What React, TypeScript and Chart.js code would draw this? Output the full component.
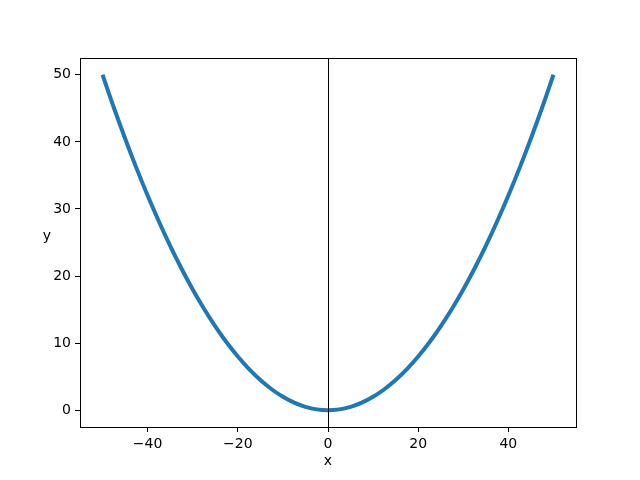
import React, { useEffect, useRef } from "react";
import { Chart, registerables } from "chart.js";

Chart.register(...registerables);

const xValues = [-50, -47.5, -45, -42.5, -40, -37.5, -35, -32.5, -30, -27.5, -25, -22.5, -20, -17.5, -15, -12.5, -10, -7.5, -5, -2.5, 0, 2.5, 5, 7.5, 10, 12.5, 15, 17.5, 20, 22.5, 25, 27.5, 30, 32.5, 35, 37.5, 40, 42.5, 45, 47.5, 50];
const yValues = [50, 45.125, 40.5, 36.125, 32, 28.125, 24.5, 21.125, 18, 15.125, 12.5, 10.125, 8, 6.125, 4.5, 3.125, 2, 1.125, 0.5, 0.125, 0, 0.125, 0.5, 1.125, 2, 3.125, 4.5, 6.125, 8, 10.125, 12.5, 15.125, 18, 21.125, 24.5, 28.125, 32, 36.125, 40.5, 45.125, 50];
const xTicks = [-40, -20, 0, 20, 40];
const yTicks = [0, 10, 20, 30, 40, 50];
const xRange = [-55, 55];
const yRange = [-2.5, 52.5];
const vLineX = 0;
const xLabel = "x";
const yLabel = "y";

const FONT = "DejaVu Sans";

const fmt = (v: number) => (v < 0 ? "\u2212" + Math.abs(v) : String(v));

export default function App() {
  const ref = useRef<HTMLCanvasElement | null>(null);
  useEffect(() => {
    document.body.style.margin = "0";
    const canvas = ref.current!;
    const framePlugin = {
      id: "frame",
      afterDatasetsDraw(chart: any) {
        const { ctx, chartArea, scales } = chart;
        ctx.save();
        ctx.strokeStyle = "#000";
        ctx.lineWidth = 1;
        const vx = Math.round(scales.x.getPixelForValue(vLineX)) + 0.5;
        ctx.beginPath();
        ctx.moveTo(vx, chartArea.top);
        ctx.lineTo(vx, chartArea.bottom);
        ctx.stroke();
        ctx.strokeRect(
          Math.round(chartArea.left) + 0.5,
          Math.round(chartArea.top) + 0.5,
          Math.round(chartArea.right - chartArea.left),
          Math.round(chartArea.bottom - chartArea.top)
        );
        ctx.fillStyle = "#000";
        ctx.font = `14px "${FONT}"`;
        ctx.textAlign = "center";
        ctx.textBaseline = "middle";
        ctx.fillText(yLabel, 47, (chartArea.top + chartArea.bottom) / 2 - 6);
        ctx.fillText(xLabel, (chartArea.left + chartArea.right) / 2, 461);
        ctx.restore();
      },
    };
    const chart = new Chart(canvas, {
      type: "line",
      data: {
        datasets: [
          {
            data: xValues.map((x, i) => ({ x, y: yValues[i] })),
            borderColor: "#1f77b4",
            borderWidth: 4,
            pointRadius: 0,
            tension: 0.4,
            borderCapStyle: "butt",
          },
        ],
      },
      options: {
        responsive: false,
        animation: false,
        layout: { padding: { top: 58, right: 64, left: 0, bottom: 0 } },
        plugins: { legend: { display: false }, tooltip: { enabled: false } },
        scales: {
          x: {
            type: "linear",
            min: xRange[0],
            max: xRange[1],
            afterBuildTicks: (s: any) => {
              s.ticks = xTicks.map((v) => ({ value: v }));
            },
            afterFit: (s: any) => {
              s.height = 53;
            },
            grid: { drawOnChartArea: false, tickLength: 5, color: "#000", tickWidth: 1 },
            border: { display: false },
            ticks: {
              color: "#000",
              font: { family: FONT, size: 14 },
              padding: 4,
              maxRotation: 0,
              callback: (v: any) => fmt(Number(v)),
            },
          },
          y: {
            type: "linear",
            min: yRange[0],
            max: yRange[1],
            afterBuildTicks: (s: any) => {
              s.ticks = yTicks.map((v) => ({ value: v }));
            },
            afterFit: (s: any) => {
              s.width = 80;
            },
            grid: { drawOnChartArea: false, tickLength: 5, color: "#000", tickWidth: 1 },
            border: { display: false },
            ticks: {
              color: "#000",
              font: { family: FONT, size: 14 },
              padding: 4,
              callback: (v: any) => fmt(Number(v)),
            },
          },
        },
      },
      plugins: [framePlugin],
    } as any);
    return () => chart.destroy();
  }, []);
  return <canvas ref={ref} width={640} height={480} style={{ display: "block" }} />;
}
